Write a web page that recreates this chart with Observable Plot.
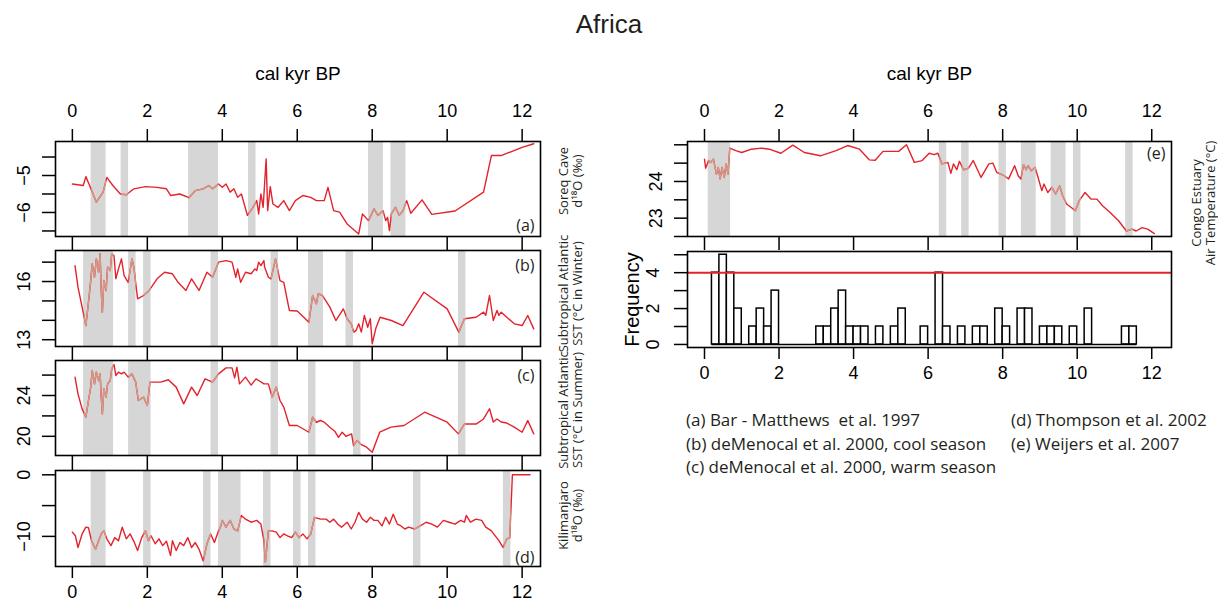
<!DOCTYPE html>
<html><head><meta charset="utf-8">
<script src="https://cdn.jsdelivr.net/npm/d3@7"></script>
<script src="https://cdn.jsdelivr.net/npm/@observablehq/plot@0.6"></script>
<style>
body{margin:0;background:#fff;}
#root{position:relative;width:1218px;height:608px;overflow:hidden;background:#fff;font-family:"Liberation Sans",Arial,sans-serif;}
.txt{position:absolute;white-space:pre;color:#231f20;}
.legend{font-family:"Open Sans",sans-serif;font-size:17px;line-height:22px;}
</style></head><body><div id="root"></div><script>
// ---------------- data (x = cal kyr BP) ----------------
const xTicks = [0, 2, 4, 6, 8, 10, 12];

const soreq = [[0.00,-5.23],[0.29,-5.27],[0.36,-5.03],[0.46,-5.27],[0.64,-5.72],[0.82,-5.45],[0.92,-5.05],[1.08,-5.27],[1.28,-5.50],[1.44,-5.52],[1.64,-5.36],[1.95,-5.30],[2.26,-5.32],[2.51,-5.36],[2.62,-5.54],[2.87,-5.50],[3.11,-5.60],[3.28,-5.41],[3.49,-5.36],[3.64,-5.27],[3.74,-5.36],[3.90,-5.23],[4.00,-5.32],[4.10,-5.23],[4.21,-5.45],[4.31,-5.36],[4.41,-5.59],[4.51,-5.50],[4.67,-6.08],[4.82,-5.86],[4.92,-5.68],[4.97,-6.04],[5.03,-5.50],[5.09,-5.86],[5.17,-4.55],[5.21,-5.95],[5.28,-5.30],[5.35,-5.77],[5.49,-5.86],[5.64,-5.68],[5.79,-5.95],[5.95,-5.68],[6.15,-5.54],[6.36,-5.59],[6.51,-5.68],[6.72,-5.68],[6.82,-5.32],[6.97,-5.95],[7.13,-5.99],[7.33,-6.31],[7.64,-6.58],[7.74,-6.04],[7.90,-6.22],[8.05,-5.90],[8.15,-6.08],[8.29,-5.95],[8.36,-6.22],[8.41,-6.13],[8.46,-6.49],[8.51,-6.04],[8.62,-5.86],[8.72,-6.08],[8.82,-5.95],[8.92,-5.68],[9.03,-6.02],[9.33,-5.66],[9.59,-6.05],[10.21,-5.96],[10.97,-5.45],[11.18,-4.46],[11.44,-4.46],[12.00,-4.24],[12.31,-4.14]];

const sstWinter = [[0.07,16.82],[0.15,15.71],[0.26,14.68],[0.36,13.73],[0.43,14.93],[0.49,16.05],[0.53,16.91],[0.59,16.22],[0.64,17.17],[0.70,16.48],[0.74,17.43],[0.77,15.54],[0.80,14.42],[0.84,16.05],[0.90,15.54],[0.94,16.74],[1.01,16.57],[1.05,17.43],[1.11,17.34],[1.16,16.14],[1.23,16.65],[1.31,17.17],[1.38,16.31],[1.49,15.96],[1.59,17.17],[1.64,16.74],[1.74,15.11],[1.90,15.28],[2.05,15.54],[2.26,16.14],[2.46,16.48],[2.67,16.40],[2.82,15.96],[3.03,15.54],[3.18,16.14],[3.38,15.54],[3.59,16.48],[3.74,16.22],[3.90,17.00],[4.10,17.08],[4.26,17.00],[4.36,16.22],[4.41,16.65],[4.49,15.96],[4.62,16.48],[4.77,16.40],[4.87,16.65],[4.92,16.57],[4.97,17.00],[5.03,16.82],[5.11,17.08],[5.13,16.74],[5.23,16.22],[5.30,16.14],[5.42,17.17],[5.54,16.05],[5.64,15.96],[5.79,14.51],[6.00,14.48],[6.31,13.90],[6.41,15.28],[6.51,14.85],[6.56,15.37],[6.67,15.28],[6.87,14.68],[7.03,13.99],[7.23,14.59],[7.33,14.08],[7.44,13.82],[7.51,13.39],[7.57,13.48],[7.64,13.82],[7.71,13.39],[7.79,14.25],[7.88,13.64],[7.95,14.08],[8.00,12.79],[8.10,13.61],[8.21,14.16],[8.51,13.99],[8.82,13.73],[9.38,15.45],[10.00,14.59],[10.31,13.39],[10.46,14.08],[10.77,14.16],[10.97,14.42],[11.03,14.25],[11.13,15.28],[11.23,13.99],[11.33,14.51],[11.38,14.25],[11.44,14.42],[11.59,14.16],[11.79,13.82],[12.00,13.73],[12.15,14.25],[12.31,13.56]];

const sstSummer = [[0.07,25.80],[0.15,24.16],[0.26,22.69],[0.36,21.88],[0.43,23.51],[0.49,24.82],[0.53,26.45],[0.59,25.14],[0.64,26.29],[0.70,25.47],[0.74,26.12],[0.77,23.84],[0.80,22.20],[0.84,24.65],[0.90,23.84],[0.94,25.14],[1.01,25.47],[1.05,26.61],[1.11,27.04],[1.16,25.96],[1.23,26.29],[1.31,26.12],[1.38,26.29],[1.49,25.80],[1.59,26.12],[1.69,25.31],[1.76,23.51],[1.90,23.84],[2.00,23.02],[2.07,25.31],[2.36,25.31],[2.56,25.54],[2.77,24.82],[2.97,23.18],[3.18,24.82],[3.33,24.00],[3.54,25.63],[3.74,25.31],[3.90,26.12],[4.10,26.71],[4.26,26.71],[4.33,25.73],[4.39,26.78],[4.46,25.14],[4.62,25.80],[4.77,25.02],[4.90,25.63],[4.97,25.47],[5.11,25.14],[5.23,25.14],[5.33,23.84],[5.44,24.82],[5.54,23.51],[5.64,22.86],[5.79,21.06],[6.00,21.06],[6.15,20.74],[6.31,20.40],[6.41,21.87],[6.51,21.38],[6.62,21.55],[6.72,21.38],[6.87,20.89],[7.00,20.50],[7.10,19.90],[7.20,20.40],[7.30,20.00],[7.45,20.24],[7.50,19.10],[7.60,19.60],[7.70,19.20],[7.85,18.93],[8.00,18.44],[8.10,19.42],[8.20,20.40],[8.50,20.90],[8.85,21.06],[9.40,22.36],[10.00,21.38],[10.30,20.24],[10.46,21.20],[10.77,21.20],[10.97,21.70],[11.13,22.70],[11.23,21.40],[11.33,21.70],[11.44,21.40],[11.59,21.30],[11.79,20.90],[12.00,20.40],[12.15,21.55],[12.31,20.24]];

const kilimanjaro = [[0.00,-9.3],[0.08,-9.9],[0.15,-11.8],[0.26,-9.6],[0.36,-8.5],[0.43,-8.6],[0.51,-10.7],[0.62,-12.1],[0.70,-10.7],[0.77,-9.6],[0.84,-9.1],[0.92,-10.4],[1.03,-11.5],[1.13,-10.2],[1.23,-10.7],[1.33,-8.5],[1.44,-10.4],[1.54,-9.6],[1.64,-10.8],[1.74,-12.3],[1.85,-10.2],[1.95,-9.1],[2.03,-10.7],[2.10,-9.9],[2.21,-11.2],[2.31,-10.4],[2.41,-11.5],[2.51,-10.8],[2.62,-13.1],[2.67,-10.7],[2.77,-12.3],[2.87,-11.0],[2.97,-11.5],[3.08,-10.2],[3.18,-11.8],[3.28,-11.0],[3.38,-12.1],[3.49,-14.0],[3.59,-11.2],[3.69,-9.6],[3.79,-11.0],[3.90,-9.1],[3.95,-8.5],[4.00,-7.4],[4.10,-8.5],[4.21,-7.4],[4.31,-8.8],[4.41,-9.1],[4.51,-6.6],[4.62,-7.2],[4.77,-7.7],[4.92,-7.4],[5.03,-8.0],[5.11,-10.7],[5.15,-14.2],[5.23,-9.1],[5.33,-9.1],[5.44,-9.3],[5.54,-10.2],[5.64,-9.6],[5.74,-9.9],[5.85,-10.2],[5.95,-9.3],[6.05,-10.2],[6.15,-9.6],[6.26,-10.4],[6.36,-9.6],[6.46,-6.9],[6.62,-7.2],[6.77,-7.2],[6.87,-7.7],[6.97,-7.2],[7.08,-8.0],[7.18,-8.5],[7.33,-7.7],[7.44,-8.8],[7.54,-7.7],[7.64,-6.1],[7.74,-7.2],[7.85,-7.7],[7.95,-6.9],[8.05,-7.4],[8.15,-7.4],[8.26,-8.3],[8.36,-6.9],[8.46,-8.0],[8.56,-6.4],[8.67,-8.0],[8.77,-8.3],[8.87,-8.8],[8.97,-8.5],[9.13,-8.8],[9.28,-8.3],[9.44,-7.7],[9.59,-8.0],[9.74,-8.5],[9.90,-7.4],[10.05,-7.7],[10.21,-8.0],[10.36,-7.4],[10.46,-7.7],[10.51,-6.6],[10.62,-7.7],[10.77,-7.2],[10.92,-7.4],[11.03,-8.5],[11.18,-9.1],[11.38,-10.7],[11.49,-11.8],[11.59,-10.4],[11.67,-10.2],[11.74,0],[12.21,0]];

const congo = [[0.00,24.61],[0.03,24.36],[0.11,24.57],[0.16,24.52],[0.24,24.61],[0.32,24.20],[0.37,24.38],[0.42,24.07],[0.47,24.38],[0.53,24.11],[0.58,24.48],[0.63,24.20],[0.68,24.91],[0.84,24.84],[1.00,24.79],[1.26,24.88],[1.53,24.91],[1.74,24.88],[2.05,24.77],[2.37,24.99],[2.68,24.79],[3.11,24.70],[3.53,24.84],[3.84,24.98],[4.16,24.88],[4.42,24.59],[4.58,24.58],[4.79,24.82],[5.00,24.82],[5.21,24.82],[5.42,25.00],[5.63,24.52],[5.84,24.57],[6.03,24.77],[6.16,24.73],[6.26,24.77],[6.37,24.48],[6.53,24.52],[6.61,24.22],[6.68,24.48],[6.77,24.32],[6.84,24.55],[6.95,24.32],[7.08,24.36],[7.21,24.57],[7.42,24.11],[7.63,24.48],[7.74,24.50],[7.84,24.25],[8.05,24.15],[8.16,24.07],[8.32,24.43],[8.42,24.15],[8.49,24.07],[8.56,24.46],[8.63,24.32],[8.68,24.43],[8.77,24.29],[8.87,24.38],[8.95,24.11],[9.05,23.75],[9.11,23.93],[9.21,23.70],[9.32,23.84],[9.42,23.66],[9.53,23.88],[9.61,23.61],[9.72,23.38],[9.84,23.29],[9.95,23.20],[10.05,23.47],[10.21,23.70],[10.37,23.52],[10.53,23.52],[10.68,23.34],[10.89,23.15],[11.11,22.93],[11.32,22.65],[11.47,22.70],[11.58,22.65],[11.74,22.74],[11.89,22.70],[12.07,22.58]];

// grey event bands per record [start, end]
const bandsA = [[0.5,0.9],[1.3,1.5],[3.1,3.9],[4.7,4.9],[7.9,8.3],[8.5,8.9]];
const bandsB = [[0.3,1.1],[1.5,1.7],[1.9,2.1],[3.7,3.9],[5.3,5.5],[6.3,6.7],[7.3,7.5],[10.3,10.5]];
const bandsC = [[0.3,1.1],[1.5,2.1],[3.7,3.9],[5.3,5.5],[6.3,6.5],[7.5,7.7],[10.3,10.5]];
const bandsD = [[0.5,0.9],[1.9,2.1],[3.5,3.7],[3.9,4.5],[5.1,5.3],[5.9,6.1],[6.3,6.5],[9.1,9.3],[11.5,11.7]];
const bandsE = [[0.1,0.7],[6.3,6.5],[6.9,7.1],[7.9,8.1],[8.5,8.9],[9.3,9.7],[9.9,10.1],[11.3,11.5]];

// histogram of events (bin start, count), bin width 0.2 kyr
const binStart = [0.2,0.4,0.6,0.8,1.0,1.2,1.4,1.6,1.8,2.0,2.2,2.4,2.6,2.8,3.0,3.2,3.4,3.6,3.8,4.0,4.2,4.4,4.6,4.8,5.0,5.2,5.4,5.6,5.8,6.0,6.2,6.4,6.6,6.8,7.0,7.2,7.4,7.6,7.8,8.0,8.2,8.4,8.6,8.8,9.0,9.2,9.4,9.6,9.8,10.0,10.2,10.4,10.6,10.8,11.0,11.2,11.4];
const binCount = [4,5,4,2,0,1,2,1,3,0,0,0,0,0,1,1,2,3,1,1,1,0,1,0,1,2,0,0,1,0,4,1,0,1,0,1,1,0,2,1,0,2,2,0,1,1,1,0,1,0,2,0,0,0,0,1,1];
const binWidth = 0.2;
const threshold = 4;

const legendLines = [
  ["(a) Bar - Matthews  et al. 1997", "(d) Thompson et al. 2002"],
  ["(b) deMenocal et al. 2000, cool season", "(e) Weijers et al. 2007"],
  ["(c) deMenocal et al. 2000, warm season", ""]
];

// ---------------- drawing ----------------
const RED = "#e3232c", TAN = "#d39a88", GREY = "#d6d6d6";
const root = document.getElementById("root");
const fmt = v => (v < 0 ? "\u2212" + Math.abs(v) : String(v));
let clipId = 0;

function place(svg, left, top) {
  svg.style.position = "absolute";
  svg.style.left = left + "px";
  svg.style.top = top + "px";
  root.appendChild(svg);
}

function clipTan(chart, bands, height) {
  const ns = "http://www.w3.org/2000/svg";
  const xs = chart.scale("x");
  const defs = document.createElementNS(ns, "defs");
  const cp = document.createElementNS(ns, "clipPath");
  const id = "tanclip" + (clipId++);
  cp.setAttribute("id", id);
  for (const [a, b] of bands) {
    const r = document.createElementNS(ns, "rect");
    const x0 = xs.apply(a), x1 = xs.apply(b);
    r.setAttribute("x", x0); r.setAttribute("width", x1 - x0);
    r.setAttribute("y", -50); r.setAttribute("height", height + 100);
    cp.appendChild(r);
  }
  defs.appendChild(cp);
  chart.insertBefore(defs, chart.firstChild);
  const lines = chart.querySelectorAll('g[aria-label="line"]');
  lines[lines.length - 1].setAttribute("clip-path", `url(#${id})`);
}

function panel(o) {
  const marks = [
    Plot.rect(o.bands, {x1: d => d[0], x2: d => d[1], fill: GREY}),
    Plot.line(o.data, {x: d => d[0], y: d => d[1], stroke: RED, strokeWidth: 1.4}),
    Plot.line(o.data, {x: d => d[0], y: d => d[1], stroke: TAN, strokeWidth: 1.4}),
    Plot.axisY({ticks: o.yTicks, tickSize: 13, tickFormat: () => "", strokeWidth: 1.5, label: null}),
    Plot.text(o.yLabels, {y: d => d, text: fmt, frameAnchor: "left", dx: -31, rotate: -90, fontSize: 18,
      textAnchor: "middle", lineAnchor: "middle"}),
    Plot.axisX({anchor: "bottom", ticks: xTicks, tickSize: o.bottomTick, tickPadding: 7,
      tickFormat: o.bottomLabels ? (d => String(d)) : (() => ""), fontSize: 18, strokeWidth: 1.5, label: null}),
    Plot.text([o.side], {frameAnchor: "right", dx: o.sideDx, dy: o.sideDy, rotate: -90, fontSize: 13,
      fontFamily: "Open Sans", lineHeight: 1.12, textAnchor: "middle", lineAnchor: "middle", fill: "#231f20"}),
    Plot.text([o.letter], {frameAnchor: o.letterAnchor, dx: -6, dy: o.letterDy, fontSize: 16, fontFamily: "Open Sans", fill: "#231f20"}),
    Plot.frame({stroke: "black", strokeWidth: 1.6})
  ];
  if (o.topAxis) {
    marks.push(Plot.axisX({anchor: "top", ticks: xTicks, tickSize: 13, tickPadding: 12, fontSize: 18, strokeWidth: 1.5, label: null}));
    marks.push(Plot.text(["cal kyr BP"], {frameAnchor: "top", dy: -68, fontSize: 19, lineAnchor: "middle"}));
  }
  const chart = Plot.plot({
    width: o.width, height: o.height,
    marginLeft: o.ml, marginRight: o.mr, marginTop: o.mt, marginBottom: o.mb,
    x: {domain: o.xDomain, label: null},
    y: {domain: o.yDomain, label: null},
    style: {background: "transparent", overflow: "visible", color: "black", fontFamily: "Liberation Sans, Arial, sans-serif"},
    marks
  });
  clipTan(chart, o.bands, o.height);
  place(chart, o.left, o.top);
}

const leftX = [-0.45, 12.49];
const L = {left: 0, width: 600, ml: 55, mr: 60, xDomain: leftX, sideDx: 30};

panel({...L, top: 60, height: 190, mt: 81, mb: 14, data: soreq, bands: bandsA,
  yDomain: [-6.65, -4.08], yTicks: [-6.5, -6, -5.5, -5, -4.5], yLabels: [-6, -5],
  topAxis: true, bottomLabels: false, bottomTick: 14,
  side: "Soreq Cave\nd\u00b9\u2078O (\u2030)", sideDy: -8, letter: "(a)", letterAnchor: "bottom-right", letterDy: -6});

panel({...L, top: 250, height: 110, mt: 0, mb: 14, data: sstWinter, bands: bandsB,
  yDomain: [12.65, 17.60], yTicks: [13, 14, 15, 16, 17], yLabels: [13, 16],
  topAxis: false, bottomLabels: false, bottomTick: 14,
  side: "Subtropical Atlantic\nSST (\u00b0C in Winter)", sideDy: -5, letter: "(b)", letterAnchor: "top-right", letterDy: 9});

panel({...L, top: 360, height: 110, mt: 0, mb: 15, data: sstSummer, bands: bandsC,
  yDomain: [18.12, 27.43], yTicks: [20, 22, 24, 26], yLabels: [20, 24],
  topAxis: false, bottomLabels: false, bottomTick: 15,
  side: "Subtropical Atlantic\nSST (\u00b0C in Summer)", sideDy: 2, letter: "(c)", letterAnchor: "top-right", letterDy: 9});

panel({...L, top: 470, height: 138, mt: 0, mb: 42, data: kilimanjaro, bands: bandsD,
  yDomain: [-14.89, 0.70], yTicks: [-10, -5, 0], yLabels: [-10, 0],
  topAxis: false, bottomLabels: true, bottomTick: 12,
  side: "Kilimanjaro\nd\u00b9\u2078O (\u2030)", sideDy: -3, letter: "(d)", letterAnchor: "bottom-right", letterDy: -4});

const rightX = [-0.456, 12.53];
panel({left: 600, width: 618, ml: 87, mr: 47, xDomain: rightX, sideDx: 32,
  top: 60, height: 190, mt: 81, mb: 14, data: congo, bands: bandsE,
  yDomain: [22.50, 25.09], yTicks: [22.5, 23, 23.5, 24, 24.5, 25], yLabels: [23, 24],
  topAxis: true, bottomLabels: false, bottomTick: 14,
  side: "Congo Estuary\nAir Temperature (\u00b0C)", sideDy: 14, letter: "(e)", letterAnchor: "top-right", letterDy: 6});

// histogram
const bins = binStart.map((b, i) => ({x1: b, x2: b + binWidth, n: binCount[i]}));
const hist = Plot.plot({
  width: 618, height: 137, marginLeft: 87, marginRight: 47, marginTop: 1, marginBottom: 40,
  x: {domain: rightX, label: null},
  y: {domain: [-0.17, 5.18], label: null},
  style: {background: "transparent", overflow: "visible", color: "black", fontFamily: "Liberation Sans, Arial, sans-serif"},
  marks: [
    Plot.rect(bins, {x1: "x1", x2: "x2", y1: 0, y2: "n", fill: "white", stroke: "black", strokeWidth: 1.5}),
    Plot.ruleY([0], {x1: binStart[0], x2: binStart[binStart.length - 1] + binWidth, stroke: "black", strokeWidth: 1.5}),
    Plot.ruleY([threshold], {stroke: RED, strokeWidth: 2}),
    Plot.axisY({ticks: [0, 1, 2, 3, 4, 5], tickSize: 13, tickFormat: () => "", strokeWidth: 1.5, label: null}),
    Plot.text([0, 2, 4], {y: d => d, text: fmt, frameAnchor: "left", dx: -34, rotate: -90, fontSize: 18,
      textAnchor: "middle", lineAnchor: "middle"}),
    Plot.text(["Frequency"], {frameAnchor: "left", dx: -55, rotate: -90, fontSize: 20, textAnchor: "middle", lineAnchor: "middle"}),
    Plot.axisX({anchor: "bottom", ticks: xTicks, tickSize: 12, tickPadding: 7, fontSize: 18, strokeWidth: 1.5, label: null}),
    Plot.frame({stroke: "black", strokeWidth: 1.6})
  ]
});
place(hist, 600, 250);

// title & legend
function addText(t, left, top, cls, css) {
  const d = document.createElement("div");
  d.className = "txt " + (cls || "");
  d.textContent = t;
  Object.assign(d.style, {left: left + "px", top: top + "px"}, css || {});
  root.appendChild(d);
}
addText("Africa", 0, 9, "", {width: "1218px", textAlign: "center", fontSize: "26px"});
legendLines.forEach((row, i) => {
  addText(row[0], 686, 409 + i * 23.5, "legend");
  if (row[1]) addText(row[1], 1011, 409 + i * 23.5, "legend");
});
</script></body></html>
